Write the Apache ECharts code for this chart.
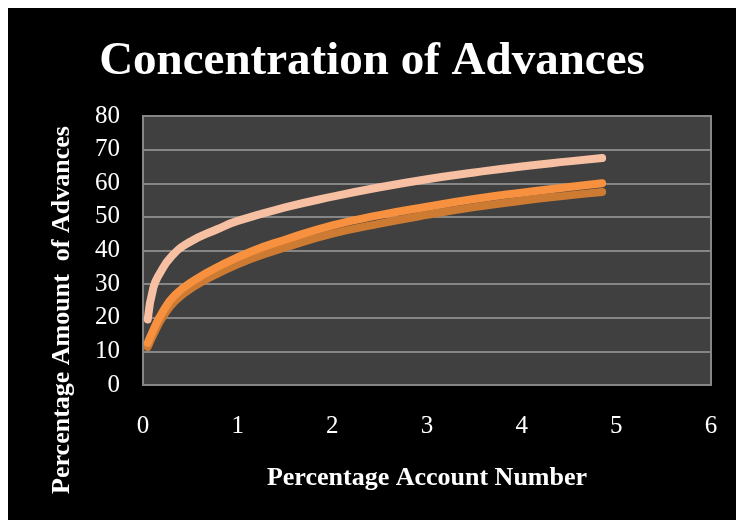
<!DOCTYPE html>
<html>
<head>
<meta charset="utf-8">
<script src="https://cdn.jsdelivr.net/npm/echarts@6/dist/echarts.min.js"></script>
<style>
  html, body { margin: 0; padding: 0; background: #ffffff; }
  #chart { position: absolute; left: 8px; top: 8px; width: 728px; height: 512px; }
</style>
</head>
<body>
<div id="chart"></div>
<script>
// Cumulative share of advances against share of accounts
const paleX = [0.05, 0.11, 0.18, 0.3, 0.48, 0.79, 1.0, 1.5, 2.0, 2.5, 3.0, 3.5, 4.0, 4.5, 4.85];
const paleY = [19.5, 29, 33.3, 38.2, 42.3, 46.4, 48.8, 52.8, 56.0, 58.8, 61.2, 63.2, 65.0, 66.5, 67.5];

const orangeX = [0.05, 0.11, 0.2, 0.34, 0.55, 0.83, 1.15, 1.5, 2.0, 2.5, 3.0, 3.5, 4.0, 4.5, 4.85];
const orangeY = [12.5, 16.4, 21.4, 26.8, 31.3, 35.7, 39.8, 43.2, 47.5, 50.5, 53.0, 55.3, 57.2, 58.9, 60.0];

const darkX = [0.05, 0.11, 0.2, 0.34, 0.55, 0.83, 1.15, 1.5, 2.0, 2.5, 3.0, 3.5, 4.0, 4.5, 4.85];
const darkY = [11.3, 15.0, 19.8, 25.0, 29.5, 33.7, 37.6, 40.9, 45.0, 48.0, 50.6, 52.9, 54.8, 56.4, 57.4];

const xTicks = { min: 0, max: 6, interval: 1 };
const yTicks = { min: 0, max: 80, interval: 10 };

const pairs = (xs, ys) => xs.map((x, i) => [x, ys[i]]);
const serif = '"Liberation Serif", "Times New Roman", serif';

const chart = echarts.init(document.getElementById('chart'));

function lineSeries(name, xs, ys, color, z) {
  return {
    name: name,
    type: 'line',
    data: pairs(xs, ys),
    smooth: true,
    showSymbol: false,
    z: z,
    lineStyle: { color: color, width: 8, cap: 'round', join: 'round' }
  };
}

chart.setOption({
  backgroundColor: '#000000',
  animation: false,
  title: {
    text: 'Concentration of Advances',
    left: 'center',
    top: 25,
    textStyle: { color: '#ffffff', fontFamily: serif, fontWeight: 'bold', fontSize: 47 }
  },
  grid: {
    left: 135, top: 108, right: 25, bottom: 135,
    show: true,
    backgroundColor: '#404040',
    borderColor: '#868686',
    borderWidth: 2
  },
  xAxis: {
    type: 'value',
    min: xTicks.min, max: xTicks.max, interval: xTicks.interval,
    name: 'Percentage Account Number',
    nameLocation: 'middle',
    nameGap: 80,
    nameTextStyle: { color: '#ffffff', fontFamily: serif, fontWeight: 'bold', fontSize: 26 },
    axisLine: { show: false },
    axisTick: { show: false },
    splitLine: { show: false },
    axisLabel: { color: '#ffffff', fontFamily: serif, fontSize: 25, margin: 29 }
  },
  yAxis: {
    type: 'value',
    min: yTicks.min, max: yTicks.max, interval: yTicks.interval,
    axisLine: { show: false },
    axisTick: { show: false },
    splitLine: { show: true, lineStyle: { color: '#868686', width: 2 } },
    axisLabel: { color: '#ffffff', fontFamily: serif, fontSize: 25, margin: 23 }
  },
  graphic: [{
    type: 'text',
    x: 54,
    y: 302,
    rotation: Math.PI / 2,
    style: {
      text: 'Percentage Amount  of Advances',
      fill: '#ffffff',
      font: 'bold 26px ' + serif,
      align: 'center',
      verticalAlign: 'middle'
    }
  }],
  series: [
    lineSeries('Series 3', darkX, darkY, '#cd7a33', 2),
    lineSeries('Series 2', orangeX, orangeY, '#f7913f', 3),
    lineSeries('Series 1', paleX, paleY, '#f8c0a3', 4)
  ]
});
</script>
</body>
</html>
